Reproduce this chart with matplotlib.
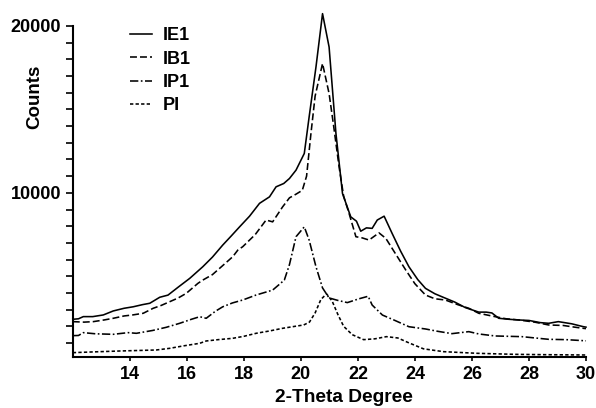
import matplotlib
matplotlib.use("Agg")
import matplotlib.pyplot as plt

plt.rcParams['font.family'] = ['Liberation Sans', 'DejaVu Sans']
plt.rcParams['font.weight'] = 'bold'
plt.rcParams['lines.scale_dashes'] = False

# 2-theta positions and counts for each sample
ie1_x = [12.0, 12.2, 12.37, 12.7, 13.07, 13.42, 13.8, 14.12, 14.45, 14.7, 15.05, 15.34, 15.7,
         16.1, 16.56, 16.9, 17.26, 17.55, 17.85, 18.2, 18.55, 18.9, 19.13, 19.4, 19.6, 19.83,
         20.12, 20.29, 20.53, 20.76, 20.99, 21.23, 21.46, 21.75, 21.95, 22.1, 22.3, 22.5, 22.68,
         22.92, 23.2, 23.5, 23.79, 24.1, 24.37, 24.7, 24.95, 25.4, 25.77, 26.24, 26.5, 26.7,
         26.94, 27.3, 27.64, 28.0, 28.4, 28.69, 29.03, 29.5, 29.9, 30.0]
ie1_y = [2420, 2450, 2580, 2580, 2680, 2920, 3080, 3170, 3300, 3380, 3740, 3870, 4350,
         4870, 5570, 6150, 6870, 7400, 7960, 8600, 9370, 9760, 10360, 10560, 10860, 11360,
         12360, 14550, 17545, 20740, 18740, 13560, 9960, 8560, 8300, 7700, 7900, 7870, 8370,
         8600, 7570, 6500, 5570, 4800, 4275, 3950, 3770, 3450, 3120, 2850, 2850, 2800,
         2480, 2420, 2380, 2350, 2220, 2180, 2280, 2150, 1980, 1950]

ib1_x = [12.0, 12.4, 12.72, 13.1, 13.42, 13.8, 14.1, 14.47, 14.82, 15.1, 15.4, 15.7, 15.98,
         16.39, 16.56, 16.9, 17.2, 17.61, 17.79, 17.96, 18.4, 18.78, 19.01, 19.36, 19.6, 19.83,
         20.05, 20.2, 20.35, 20.5, 20.76, 20.99, 21.15, 21.34, 21.5, 21.69, 21.93, 22.15, 22.39,
         22.74, 22.98, 23.3, 23.68, 24.0, 24.37, 24.7, 25.07, 25.5, 25.89, 26.24, 26.82, 27.2,
         27.64, 28.2, 28.69, 29.2, 29.6, 29.9, 30.0]
ib1_y = [2280, 2250, 2280, 2380, 2480, 2620, 2680, 2780, 3080, 3250, 3475, 3700, 3975,
         4575, 4770, 5100, 5550, 6170, 6570, 6770, 7500, 8370, 8260, 9160, 9700, 9920,
         10150, 11000, 13500, 15800, 17750, 15950, 14000, 11560, 9800, 8770, 7370, 7300, 7170,
         7600, 7270, 6400, 5370, 4550, 3875, 3650, 3575, 3300, 3080, 2780, 2575, 2450,
         2380, 2250, 2080, 2050, 1950, 1880, 1860]

ip1_x = [12.0, 12.2, 12.37, 12.8, 13.42, 13.94, 14.23, 14.8, 15.28, 15.75, 16.16, 16.45, 16.68,
         17.0, 17.26, 17.6, 17.96, 18.43, 19.01, 19.42, 19.6, 19.83, 20.12, 20.29, 20.53, 20.76,
         20.99, 21.3, 21.63, 22.04, 22.36, 22.5, 22.86, 23.3, 23.79, 24.37, 24.8, 25.3, 25.89,
         26.24, 26.82, 27.75, 28.69, 29.3, 29.9, 30.0]
ip1_y = [1440, 1450, 1620, 1550, 1520, 1620, 1580, 1750, 1940, 2180, 2420, 2575, 2480,
         2900, 3170, 3400, 3575, 3875, 4170, 4770, 5700, 7370, 7960, 7170, 5570, 4300,
         3700, 3550, 3420, 3650, 3800, 3275, 2675, 2350, 1975, 1840, 1700, 1560, 1680,
         1540, 1420, 1380, 1220, 1200, 1140, 1130]

pi_x = [12.0, 12.8, 13.65, 14.93, 15.4, 15.86, 16.45, 16.68, 17.1, 17.61, 18.0, 18.43, 18.9,
        19.36, 19.8, 20.1, 20.3, 20.5, 20.7, 20.9, 21.1, 21.3, 21.5, 21.8, 22.2, 22.6, 23.0,
        23.4, 23.8, 24.3, 25.0, 26.2, 27.5, 28.5, 30.0]
pi_y = [420, 470, 520, 580, 680, 820, 980, 1120, 1200, 1280, 1400, 1580, 1720,
        1880, 2000, 2080, 2250, 2800, 3600, 3950, 3500, 2700, 2000, 1500, 1200, 1250, 1380,
        1300, 1000, 650, 480, 380, 320, 300, 280]

labels = ['IE1', 'IB1', 'IP1', 'PI']
x_ticks = [14, 16, 18, 20, 22, 24, 26, 28, 30]
y_ticks = [10000, 20000]

fig = plt.figure(figsize=(5.96, 4.08), dpi=100)
ax = fig.add_axes([0.1221, 0.125, 0.8611, 0.8113])

lw = 1.15
ax.plot(ie1_x, ie1_y, color='black', lw=lw, label=labels[0], clip_on=False)
ax.plot(ib1_x, ib1_y, color='black', lw=lw, dashes=(5, 2.2), label=labels[1], clip_on=False)
ax.plot(ip1_x, ip1_y, color='black', lw=lw, dashes=(6, 1.8, 1.2, 1.8), label=labels[2], clip_on=False)
ax.plot(pi_x, pi_y, color='black', lw=lw, dashes=(2.4, 1.6), label=labels[3], clip_on=False)

ax.set_xlim(12, 30)
ax.set_ylim(160, 20000)
ax.set_xticks(x_ticks)
ax.set_yticks(y_ticks)
ax.set_yticks(range(1000, 20000, 1000), minor=True)
ax.tick_params(axis='y', which='both', length=5, width=1.2, direction='out', labelsize=13)
ax.tick_params(axis='x', which='major', length=3, width=1.2, direction='out', labelsize=13)
for lab in ax.get_xticklabels() + ax.get_yticklabels():
    lab.set_fontweight('bold')

for s in ['top', 'right']:
    ax.spines[s].set_visible(False)
for s in ['left', 'bottom']:
    ax.spines[s].set_linewidth(1.5)

ax.set_xlabel('2-Theta Degree', fontsize=13.8, fontweight='bold')
ax.xaxis.set_label_coords((344 - 72.8) / 513.2, -(397 - 357) / 331, transform=ax.transAxes)
ax.xaxis.label.set_va('center')
fig.text(35 / 596, 1 - 97 / 408, 'Counts', rotation=90, fontsize=13.5, fontweight='bold',
         ha='center', va='center')

leg = ax.legend(loc='upper left', bbox_to_anchor=(130 / 596, 1 - 27 / 408),
                bbox_transform=fig.transFigure, frameon=False, fontsize=13,
                handlelength=1.2, handletextpad=0.6, labelspacing=0.36, borderpad=0,
                borderaxespad=0)
for t in leg.get_texts():
    t.set_fontweight('bold')

fig.savefig('out.png', dpi=100)
